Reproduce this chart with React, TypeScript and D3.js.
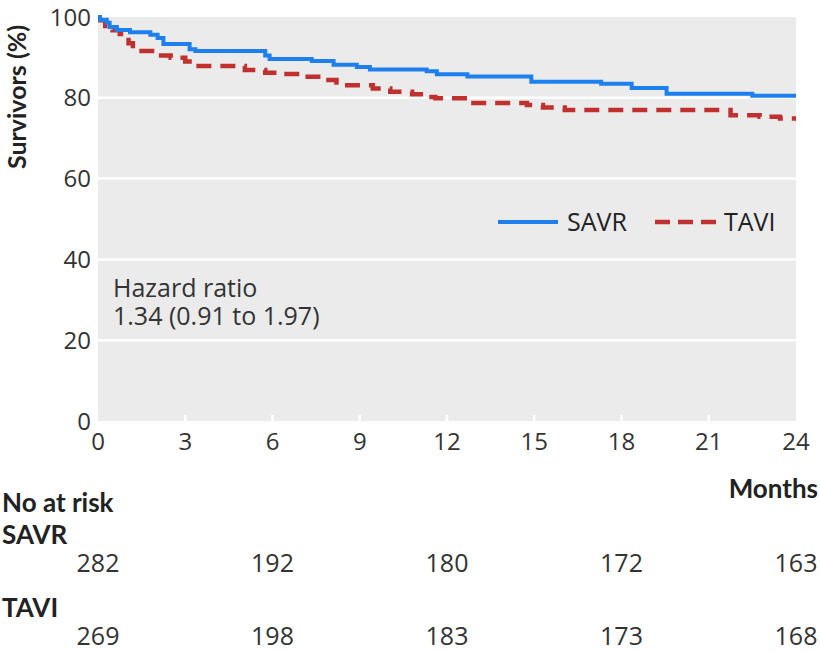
import React from "react";
import * as d3 from "d3";

// SAVR Kaplan-Meier steps (months, survivors %)
const savrMonths = [0, 0.07, 0.3, 0.4, 0.65, 1.1, 1.8, 2.05, 2.25, 3.15, 3.35, 5.75, 5.9, 7.35, 8.1, 8.9, 9.35, 11.3, 11.65, 12.7, 14.9, 17.3, 18.35, 19.55, 22.5, 24];
const savrSurv = [100, 99.3, 98.6, 97.5, 96.8, 96.2, 95.6, 94.8, 93.3, 92.0, 91.6, 90.5, 89.6, 89.1, 88.2, 87.6, 87.0, 86.6, 85.8, 85.3, 84.0, 83.5, 82.4, 81.0, 80.5, 80.5];

// TAVI Kaplan-Meier steps
const taviMonths = [0, 0.25, 0.5, 0.75, 1.05, 1.2, 2.05, 2.5, 3.0, 3.25, 5.05, 5.75, 6.3, 7.05, 7.75, 8.2, 9.45, 10.05, 10.8, 11.2, 11.6, 12.7, 14.75, 15.3, 16.05, 21.75, 22.75, 23.45, 24];
const taviSurv = [99.2, 97.8, 96.7, 95.8, 93.5, 91.6, 90.5, 89.9, 89.0, 87.9, 86.9, 86.2, 85.9, 85.2, 84.4, 83.1, 82.3, 81.5, 80.9, 80.2, 79.9, 78.7, 78.2, 77.6, 77.0, 75.7, 75.3, 74.9, 74.9];

const xTicks = [0, 3, 6, 9, 12, 15, 18, 21, 24];
const yTicks = [0, 20, 40, 60, 80, 100];
const riskTimes = [0, 6, 12, 18, 24];
const savrAtRisk = [282, 192, 180, 172, 163];
const taviAtRisk = [269, 198, 183, 173, 168];

const BLUE = "#1e80ef";
const RED = "#c0302f";
const FONT = "'Open Sans', sans-serif";
const BOLD = "Lato, 'Open Sans', sans-serif";

export default function App() {
  const left = 98, right = 796, top = 17, bottom = 421;
  const x = d3.scaleLinear().domain([0, 24]).range([left, right]);
  const y = d3.scaleLinear().domain([0, 100]).range([bottom, top]);
  const line = d3
    .line<[number, number]>()
    .x((d) => x(d[0]))
    .y((d) => y(d[1]))
    .curve(d3.curveStepAfter);
  const savr = savrMonths.map((m, i) => [m, savrSurv[i]] as [number, number]);
  const tavi = taviMonths.map((m, i) => [m, taviSurv[i]] as [number, number]);

  return (
    <svg width={820} height={652} style={{ position: "absolute", left: 0, top: 0 }} fontFamily={FONT}>
      <rect x={left} y={top} width={right - left} height={bottom - top} fill="#ebebeb" />
      {yTicks.filter((t) => t > 0 && t < 100).map((t) => (
        <line key={t} x1={left} x2={right} y1={y(t)} y2={y(t)} stroke="#fff" strokeWidth={2.5} />
      ))}
      {xTicks.filter((t) => t > 0 && t < 24).map((t) => (
        <line key={t} x1={x(t)} x2={x(t)} y1={bottom} y2={bottom - 6} stroke="#fff" strokeWidth={2.5} />
      ))}
      <path d={line(tavi) || ""} fill="none" stroke={RED} strokeWidth={4.5} strokeDasharray="15 9" />
      <path d={line(savr) || ""} fill="none" stroke={BLUE} strokeWidth={4} />

      {yTicks.map((t) => (
        <text key={t} x={91} y={y(t)} dy="0.36em" textAnchor="end" fontSize={24} fill="#333">
          {t}
        </text>
      ))}
      {xTicks.map((t) => (
        <text key={t} x={x(t)} y={450} textAnchor="middle" fontSize={24} fill="#333">
          {t}
        </text>
      ))}
      <text transform="translate(26,97) rotate(-90)" textAnchor="middle" fontSize={25} fontWeight="bold" fontFamily={BOLD} fill="#222">
        Survivors (%)
      </text>

      {/* legend */}
      <line x1={498} x2={558} y1={222} y2={222} stroke={BLUE} strokeWidth={4} />
      <text x={567} y={231} fontSize={25} fill="#222">SAVR</text>
      <line x1={655} x2={717} y1={222} y2={222} stroke={RED} strokeWidth={4.5} strokeDasharray="15 8" />
      <text x={724} y={231} fontSize={25} fill="#222">TAVI</text>

      <text x={113} y={297} fontSize={25} fill="#333">Hazard ratio</text>
      <text x={113} y={325} fontSize={25} fill="#333">1.34 (0.91 to 1.97)</text>

      <g fontFamily={BOLD} fontWeight="bold" fontSize={26} fill="#222">
        <text x={818} y={498} textAnchor="end">Months</text>
        <text x={2} y={512}>No at risk</text>
        <text x={2} y={544}>SAVR</text>
        <text x={2} y={617}>TAVI</text>
      </g>
      {riskTimes.map((t, i) => (
        <text key={t} x={x(t)} y={572} textAnchor="middle" fontSize={25} fill="#333">
          {savrAtRisk[i]}
        </text>
      ))}
      {riskTimes.map((t, i) => (
        <text key={t} x={x(t)} y={645} textAnchor="middle" fontSize={25} fill="#333">
          {taviAtRisk[i]}
        </text>
      ))}
    </svg>
  );
}
